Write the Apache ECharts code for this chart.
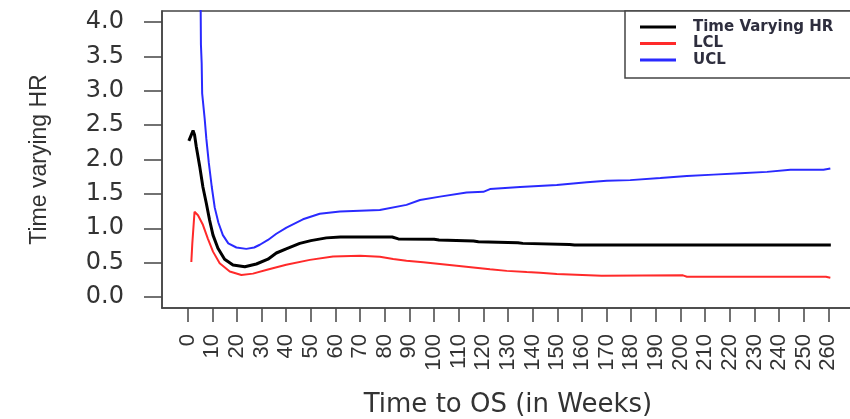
<!DOCTYPE html>
<html>
<head>
<meta charset="utf-8">
<script src="https://cdn.jsdelivr.net/npm/echarts@6.0.0/dist/echarts.min.js"></script>
<style>
html,body{margin:0;padding:0;background:#fff;}
#chart{width:850px;height:419px;}
</style>
</head>
<body>
<div id="chart"></div>
<script>
// ---- data ----
const xTicks = [0,10,20,30,40,50,60,70,80,90,100,110,120,130,140,150,160,170,180,190,200,210,220,230,240,250,260];
const yTicks = [0.0,0.5,1.0,1.5,2.0,2.5,3.0,3.5,4.0];

const hrWeeks  = [0.5,2.2,2.8,3.5,4.9,6.2,7.6,8.9,10.3,12.3,15,18.4,23.2,27.9,32.6,36,40,45.5,50,56.3,62,83,85.5,100,102,116,118,134,136,155,157,261];
const hrValues = [2.27,2.42,2.36,2.19,1.90,1.60,1.36,1.12,0.90,0.71,0.55,0.465,0.44,0.48,0.55,0.64,0.70,0.78,0.82,0.86,0.872,0.872,0.845,0.84,0.83,0.815,0.805,0.79,0.78,0.765,0.756,0.756];

const lclWeeks  = [1.5,1.9,2.8,4.2,6.2,8.2,10.3,13,17.1,21.8,26.5,32.6,40,49.6,59,70,78,83.4,88.8,95.6,102.4,109.2,115.9,122.7,129.5,137.6,143,149.8,168,201,202.6,259,260.8];
const lclValues = [0.51,0.78,1.24,1.19,1.05,0.85,0.66,0.49,0.37,0.32,0.34,0.40,0.47,0.54,0.59,0.60,0.587,0.553,0.528,0.504,0.48,0.455,0.43,0.402,0.38,0.364,0.354,0.333,0.31,0.315,0.295,0.295,0.28];

const uclWeeks  = [5.2,5.3,5.4,5.7,5.9,6.9,7.6,8.6,9.8,11,12.5,14.3,16.5,19.8,23.8,27,29.3,32.6,36,40.1,46.8,53.6,61.8,78,88.8,94.3,102.4,113.2,120,122.7,134.9,149.8,162,170.1,179.6,191.8,202.6,213.4,224.3,235.1,244.6,258,260.8];
const uclValues = [4.6,4.16,3.67,3.4,2.96,2.6,2.3,1.95,1.6,1.3,1.08,0.9,0.78,0.72,0.70,0.72,0.76,0.83,0.92,1.01,1.13,1.21,1.245,1.265,1.34,1.41,1.46,1.52,1.53,1.57,1.60,1.63,1.67,1.69,1.70,1.73,1.76,1.78,1.80,1.82,1.85,1.85,1.87];

const seriesNames = ['Time Varying HR','LCL','UCL'];
const seriesColors = ['#000000','#ff2a2a','#2a2aff'];

function zip(xs, ys){ return xs.map((x,i)=>[x, ys[i]]); }

const chart = echarts.init(document.getElementById('chart'), null, {renderer:'canvas'});
const axisColor = '#444';
chart.setOption({
  animation:false,
  backgroundColor:'#fff',
  grid:{left:162, right:-4, top:11, bottom:111, outerBoundsMode:'none', containLabel:false,
        show:true, borderColor:axisColor, borderWidth:1.5, backgroundColor:'transparent'},
  legend:{
    left:625, top:11, orient:'vertical',
    data:seriesNames,
    icon:'rect', itemWidth:36, itemHeight:3, itemGap:0.5,
    borderColor:axisColor, borderWidth:1.5, padding:[8,40,10,15],
    backgroundColor:'#fff',
    textStyle:{fontFamily:'DejaVu Sans', fontWeight:'bold', fontSize:15, lineHeight:16, color:'#2e2e3e', padding:[0,0,0,12]}
  },
  xAxis:{
    type:'value', min:-10.4, max:270.4,
    name:'Time to OS (in Weeks)', nameLocation:'middle', nameGap:84,
    nameTextStyle:{fontFamily:'DejaVu Sans', fontSize:26, color:'#333'},
    axisLine:{show:true, onZero:false, lineStyle:{color:axisColor, width:1.5}},
    axisTick:{show:true, length:14, customValues:xTicks, lineStyle:{color:axisColor, width:1.5}},
    axisLabel:{customValues:xTicks, rotate:90, margin:26, fontFamily:'Liberation Sans', fontSize:22, color:'#333'},
    splitLine:{show:false}
  },
  yAxis:{
    type:'value', min:-0.16, max:4.16,
    name:'Time varying HR', nameLocation:'middle', nameGap:111, nameRotate:90,
    nameTextStyle:{fontFamily:'Liberation Sans', fontSize:23, color:'#333'},
    axisLine:{show:true, onZero:false, lineStyle:{color:axisColor, width:1.5}},
    axisTick:{show:true, length:18, customValues:yTicks, lineStyle:{color:axisColor, width:1.5}},
    axisLabel:{customValues:yTicks, margin:38, fontFamily:'DejaVu Sans', fontSize:24, color:'#333',
      formatter:(v)=>Number(v).toFixed(1)},
    splitLine:{show:false}
  },
  series:[
    {name:seriesNames[0], type:'line', data:zip(hrWeeks,hrValues), showSymbol:false, symbol:'none', clip:true, z:4,
     lineStyle:{color:seriesColors[0], width:3}, itemStyle:{color:seriesColors[0]}},
    {name:seriesNames[1], type:'line', data:zip(lclWeeks,lclValues), showSymbol:false, symbol:'none', clip:true, z:3,
     lineStyle:{color:seriesColors[1], width:2}, itemStyle:{color:seriesColors[1]}},
    {name:seriesNames[2], type:'line', data:zip(uclWeeks,uclValues), showSymbol:false, symbol:'none', clip:true, z:3,
     lineStyle:{color:seriesColors[2], width:2}, itemStyle:{color:seriesColors[2]}}
  ]
});
</script>
</body>
</html>
